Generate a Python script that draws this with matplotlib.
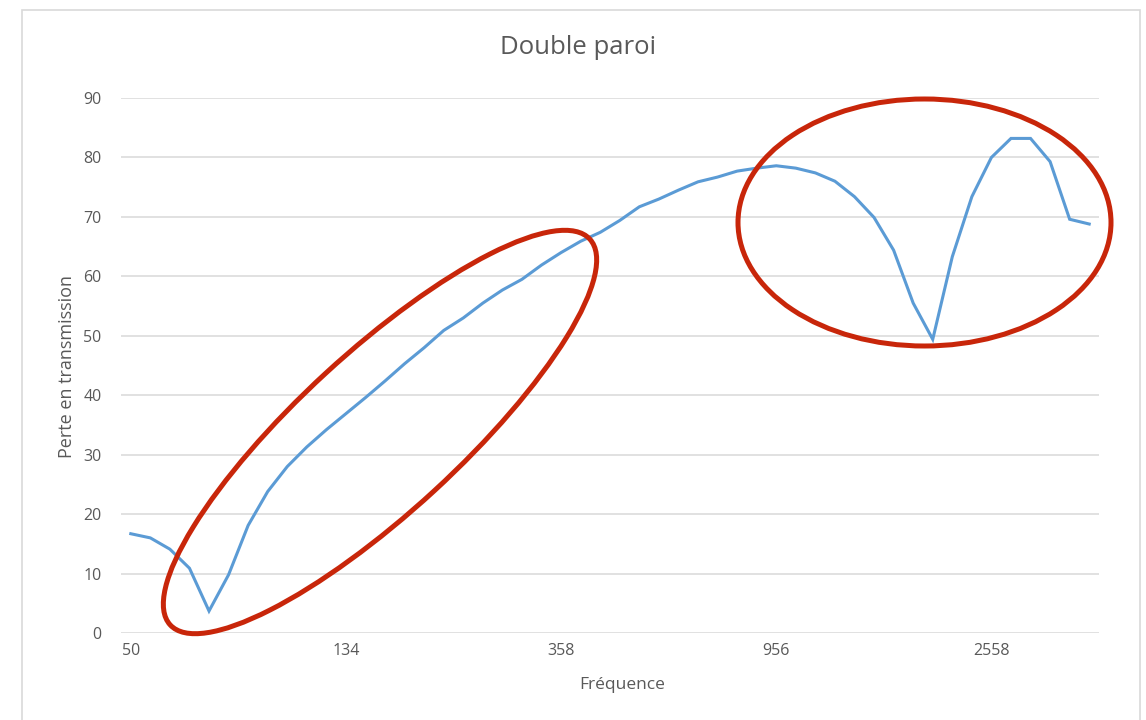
import matplotlib
matplotlib.use("Agg")
import matplotlib.pyplot as plt
from matplotlib.patches import Ellipse, Rectangle
from matplotlib.transforms import Affine2D

# ---- data ----
perte = [16.7, 16.0, 14.1, 10.9, 3.7, 9.8, 18.1, 23.8, 28.0, 31.3,
         34.2, 36.9, 39.6, 42.4, 45.3, 48.0, 50.9, 53.0, 55.5, 57.7,
         59.5, 61.9, 64.0, 65.9, 67.4, 69.4, 71.7, 73.0, 74.5, 75.9,
         76.7, 77.7, 78.2, 78.6, 78.2, 77.4, 76.0, 73.4, 69.9, 64.4,
         55.5, 49.4, 63.3, 73.4, 80.0, 83.2, 83.2, 79.3, 69.6, 68.8]
tick_labels = ["50", "134", "358", "956", "2558"]
tick_step = 11
y_ticks = [0, 10, 20, 30, 40, 50, 60, 70, 80, 90]
title = "Double paroi"
x_title = "Fréquence"
y_title = "Perte en transmission"

W, H = 1146, 720
plt.rcParams['font.family'] = ['Open Sans', 'DejaVu Sans']
fig = plt.figure(figsize=(W / 100, H / 100), dpi=100)
fig.patch.set_facecolor("white")

ax = fig.add_axes([121 / W, 1 - 633 / H, (1099 - 121) / W, (633 - 98) / H])
x = list(range(len(perte)))
ax.plot(x, perte, color="#5B9BD5", linewidth=2.2, solid_joinstyle="miter", zorder=3)
ax.set_xlim(-0.5, len(perte) - 0.5)
ax.set_ylim(0, 90)
ax.set_yticks(y_ticks)
ax.set_yticklabels([str(v) for v in y_ticks])
ax.set_xticks([i * tick_step for i in range(len(tick_labels))])
ax.set_xticklabels(tick_labels)
ax.tick_params(axis="both", length=0, labelsize=11.5, colors="#595959")
ax.tick_params(axis="y", pad=14)
ax.tick_params(axis="x", pad=7)
ax.grid(axis="y", color="#D9D9D9", linewidth=1.1)
ax.set_axisbelow(True)
for s in ax.spines.values():
    s.set_visible(False)

# titles
fig.text(578 / W, 1 - 48 / H, title, ha="center", va="center", fontsize=18.5, color="#595959")
fig.text(622 / W, 1 - 685 / H, x_title, ha="center", va="center", fontsize=12.5, color="#595959")
fig.text(67 / W, 1 - 366 / H, y_title, ha="center", va="center", rotation=90, fontsize=13, color="#595959")

# chart border
fig.patches.append(Rectangle((22 / W, -0.05), (1140 - 22) / W, 1 - 10 / H + 0.05,
                             transform=fig.transFigure, fill=False,
                             edgecolor="#D9D9D9", linewidth=1.2))

# red highlight ellipses (pixel coords, y from top)
pix = Affine2D().scale(1, -1).translate(0, H)
e1 = Ellipse((380, 432), 570, 160, angle=-42.6, fill=False, edgecolor="#C8260A",
             linewidth=3.6, transform=pix, zorder=5)
e2 = Ellipse((924.5, 222.5), 373, 247, angle=0, fill=False, edgecolor="#C8260A",
             linewidth=3.6, transform=pix, zorder=5)
fig.patches.append(e1)
fig.patches.append(e2)

fig.savefig("out.png", dpi=100, facecolor="white")
